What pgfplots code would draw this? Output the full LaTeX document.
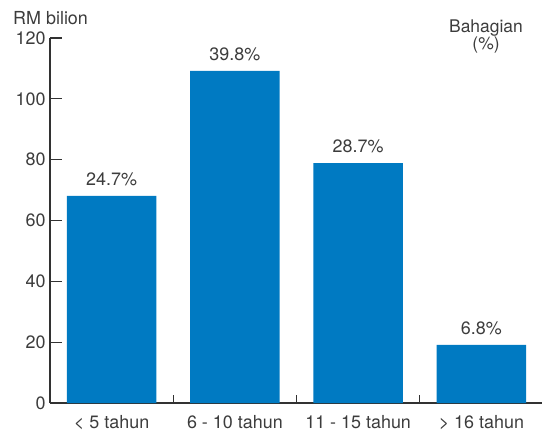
\documentclass[border=0pt]{standalone}
\usepackage{pgfplots}
\pgfplotsset{compat=1.18}
\usepackage{fontspec}
\setmainfont{TeX Gyre Heros}
\definecolor{barblue}{RGB}{0,122,194}
\definecolor{txt}{RGB}{60,60,60}
\definecolor{axl}{RGB}{50,50,50}
\begin{document}
\begin{tikzpicture}
\useasboundingbox (-50bp,-30bp) rectangle (492bp,403bp);
\begin{axis}[
  at={(0,0)}, anchor=south west,
  scale only axis, width=493bp, height=365bp,
  xmin=-0.5, xmax=3.5, ymin=0, ymax=120,
  axis lines*=left,
  axis line style={axl, line width=1.1bp},
  font=\fontsize{18}{21}\selectfont\color{txt},
  /pgf/number format/assume math mode=true,
  ytick={0,20,...,120},
  major tick length=12bp,
  minor tick length=8bp,
  tick style={axl, line width=1.1bp},
  yticklabel style={xshift=-1bp},
  xtick={0,1,2,3},
  xticklabels={< 5 tahun, 6 - 10 tahun, 11 - 15 tahun, > 16 tahun},
  xticklabel style={anchor=base, yshift=-25bp},
  every major x tick/.append style={draw=none},
  minor xtick={0.5,1.5,2.5},
  clip=false,
  point meta=explicit symbolic,
  nodes near coords={\pgfplotspointmeta},
  nodes near coords style={anchor=south, yshift=6.5bp, font=\fontsize{18}{21}\selectfont\color{txt}},
]
\addplot[ybar, bar width=0.725, fill=barblue, draw=none] coordinates {
  (0,68.1) [24.7\%]
  (1,109.2) [39.8\%]
  (2,78.9) [28.7\%]
  (3,19.1) [6.8\%]
};
\node[anchor=base west, font=\fontsize{18}{21}\selectfont, text=txt, inner sep=0pt] at (rel axis cs:0,1) [xshift=-37bp, yshift=13bp] {RM bilion};
\node[anchor=base, font=\fontsize{17.5}{20}\selectfont, text=txt, inner sep=0pt] at (rel axis cs:0,1) [xshift=436bp, yshift=5bp] {Bahagian};
\node[anchor=base, font=\fontsize{17.5}{20}\selectfont, text=txt, inner sep=0pt] at (rel axis cs:0,1) [xshift=436bp, yshift=-12bp] {(\%)};
\end{axis}
\end{tikzpicture}
\end{document}
